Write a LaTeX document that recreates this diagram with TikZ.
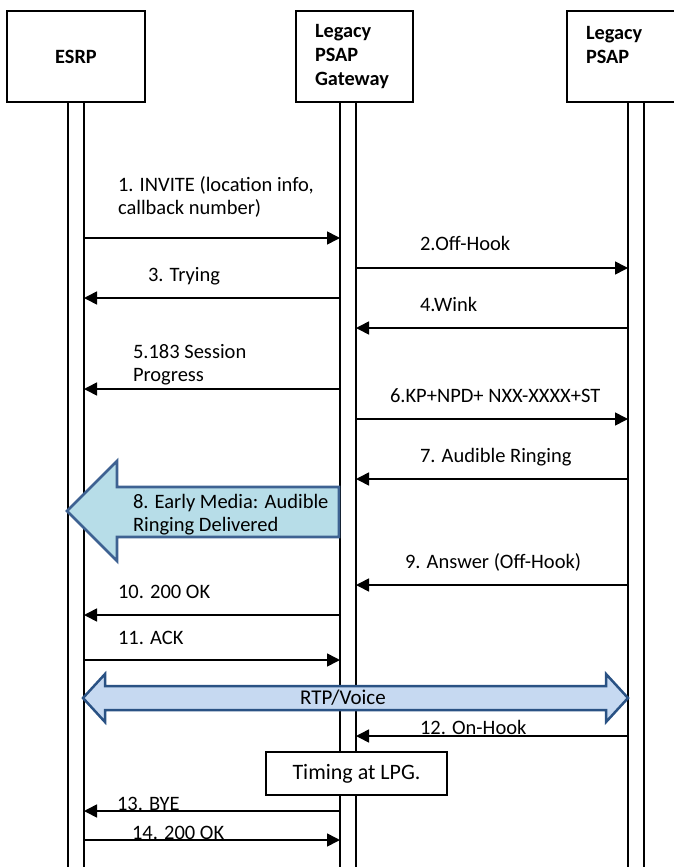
\documentclass[tikz,border=0pt]{standalone}
\usepackage{fontspec}
\setmainfont{Carlito}
\usetikzlibrary{arrows.meta}
\begin{document}
\begin{tikzpicture}[x=1pt,y=-1pt,
  every node/.style={outer sep=0pt, inner sep=0pt},
  actor/.style={draw, line width=1.3pt, fill=white, minimum height=91pt},
  life/.style={draw, line width=1.1pt, minimum width=16pt, minimum height=770pt},
  msg/.style={line width=1.6pt, -{Triangle[length=13pt,width=13pt]}},
  lbl/.style={font=\fontsize{20.5}{23}\selectfont, align=left, anchor=base west},
  hdr/.style={font=\fontsize{20.3}{24}\selectfont\bfseries, align=left},
  bigarrow/.style={fill=arrowfillA, draw=arrowdrawA, line width=2.8pt, line join=miter},
  rtparrow/.style={fill=arrowfillB, draw=arrowdrawB, line width=2.5pt, line join=miter}
]
\definecolor{arrowfillA}{RGB}{183,221,232}
\definecolor{arrowdrawA}{RGB}{62,98,146}
\definecolor{arrowfillB}{RGB}{198,217,241}
\definecolor{arrowdrawB}{RGB}{42,82,132}
\useasboundingbox (0,0) rectangle (673,867);

% lifelines
\node[life] (esrpL) at (76,486) {};
\node[life] (lpgL) at (348,486) {};
\node[life] (psapL) at (636,486) {};

% actor boxes
\node[actor, minimum width=138pt] (esrp) at (76,56.5) {};
\node[actor, minimum width=117pt] (lpg) at (354.5,56.5) {};
\node[actor, minimum width=133pt] (psap) at (633.5,56.5) {};
\node[hdr] (esrpT) at (esrp.center) {ESRP};
\node[hdr, anchor=west] (lpgT) at (315,57) {Legacy\\PSAP\\Gateway};
\node[hdr, anchor=west] (psapT) at (586,45) {Legacy\\PSAP};

% messages
\draw[msg] (esrpL.east |- 0,238) -- (lpgL.west |- 0,238);
\node[lbl] (m1) at (118,214) {1. INVITE (location info,\\callback number)};

\draw[msg] (lpgL.east |- 0,268) -- (psapL.west |- 0,268);
\node[lbl] (m2) at (420,250.5) {2.Off-Hook};

\draw[msg] (lpgL.west |- 0,298) -- (esrpL.east |- 0,298);
\node[lbl] (m3) at (148,281.5) {3. Trying};

\draw[msg] (psapL.west |- 0,328) -- (lpgL.east |- 0,328);
\node[lbl] (m4) at (420,311.5) {4.Wink};

\draw[msg] (lpgL.west |- 0,389) -- (esrpL.east |- 0,389);
\node[lbl] (m5) at (133,381.5) {5.183 Session\\Progress};

\draw[msg] (lpgL.east |- 0,419) -- (psapL.west |- 0,419);
\node[lbl] (m6) at (390,402.5) {6.KP+NPD+ NXX-XXXX+ST};

\draw[msg] (psapL.west |- 0,479) -- (lpgL.east |- 0,479);
\node[lbl] (m7) at (420,462.5) {7. Audible Ringing};

% 8. early media big arrow
\path[bigarrow] (67,511) -- (117,461) -- (117,487) -- (339,487) -- (339,537) -- (117,537) -- (117,561) -- cycle;
\node[lbl] (m8) at (133,531.5) {8. Early Media: Audible\\Ringing Delivered};

\draw[msg] (psapL.west |- 0,585) -- (lpgL.east |- 0,585);
\node[lbl] (m9) at (405,568.5) {9. Answer (Off-Hook)};

\draw[msg] (lpgL.west |- 0,615) -- (esrpL.east |- 0,615);
\node[lbl] (m10) at (118,598.5) {10. 200 OK};

\draw[msg] (esrpL.east |- 0,660) -- (lpgL.west |- 0,660);
\node[lbl] (m11) at (118,644.5) {11. ACK};

% RTP/Voice double arrow
\path[rtparrow] (83,698) -- (105,674) -- (105,686) -- (606,686) -- (606,674) -- (628,698) -- (606,722) -- (606,710) -- (105,710) -- (105,722) -- cycle;
\node[font=\fontsize{21}{23}\selectfont] (rtp) at (343,698) {RTP/Voice};

\draw[msg] (psapL.west |- 0,736) -- (lpgL.east |- 0,736);
\node[lbl] (m12) at (420,734) {12. On-Hook};

\node[draw, line width=1.3pt, fill=white, minimum width=181pt, minimum height=43pt, font=\fontsize{22}{25}\selectfont] (timing) at (356.5,773.5) {Timing at LPG.};

\draw[msg] (lpgL.west |- 0,811) -- (esrpL.east |- 0,811);
\node[lbl] (m13) at (117,810) {13. BYE};

\draw[msg] (esrpL.east |- 0,840) -- (lpgL.west |- 0,840);
\node[lbl] (m14) at (132,839) {14. 200 OK};
\end{tikzpicture}
\end{document}
